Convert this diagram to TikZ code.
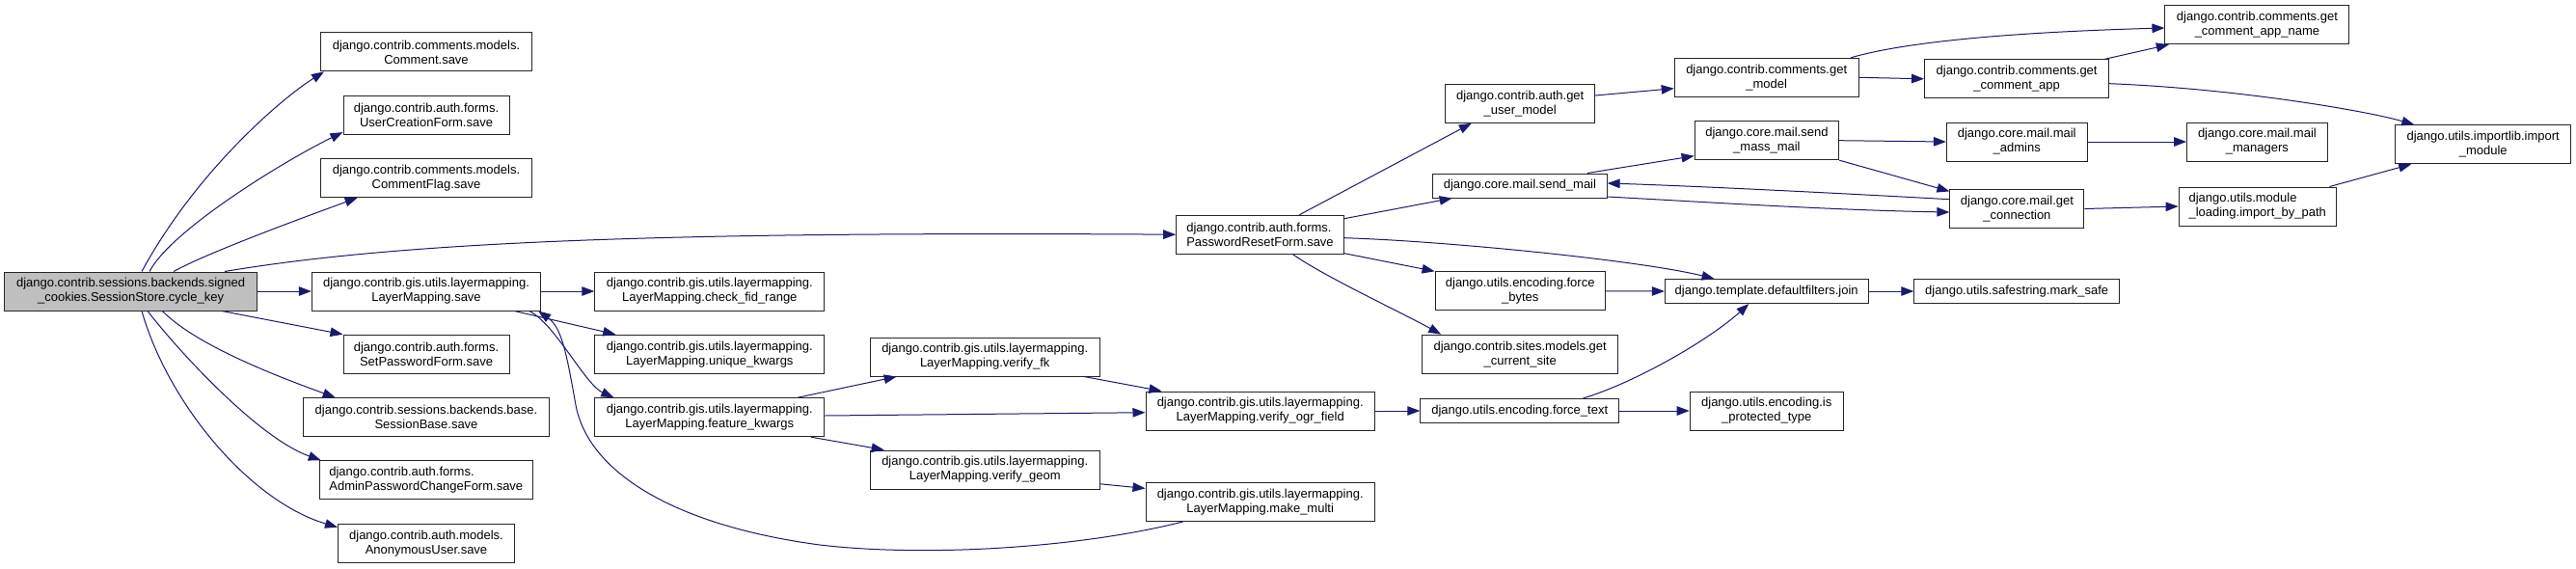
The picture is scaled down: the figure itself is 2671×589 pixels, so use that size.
\documentclass[tikz,border=0pt]{standalone}
\usepackage{fontspec}
\setmainfont{Liberation Sans}
\usetikzlibrary{arrows.meta}
\definecolor{edgeblue}{HTML}{191970}
\definecolor{rootgray}{HTML}{BFBFBF}
\begin{document}
\begin{tikzpicture}[x=1pt,y=-1pt,
  box/.style={draw=black!85, line width=1pt, fill=white, inner sep=0pt,
    font=\fontsize{13}{15}\selectfont, align=center, minimum height=40pt},
  sbox/.style={box, minimum height=25pt},
  lbox/.style={box, align=left},
  edge/.style={draw=edgeblue, line width=1pt, -{Triangle[length=13pt,width=9.5pt]}, fill=none}
]
\fill[white] (0,0) rectangle (2671,589);
\useasboundingbox (0,0) rectangle (2671,589);

% nodes
\node[box, fill=rootgray, minimum width=262pt] (root) at (135.6,302) {django.contrib.sessions.backends.signed\\\_cookies.SessionStore.cycle\_key};
\node[box, minimum width=219pt] (cmt) at (442,53.9) {django.contrib.comments.models.\\Comment.save};
\node[box, minimum width=172pt] (ucf) at (442,119.2) {django.contrib.auth.forms.\\UserCreationForm.save};
\node[box, minimum width=219pt] (cfl) at (442,184.5) {django.contrib.comments.models.\\CommentFlag.save};
\node[box, minimum width=237.3pt] (lms) at (442,302) {django.contrib.gis.utils.layermapping.\\LayerMapping.save};
\node[box, minimum width=172pt] (spf) at (442,367.2) {django.contrib.auth.forms.\\SetPasswordForm.save};
\node[box, minimum width=255pt] (sbs) at (442,432.7) {django.contrib.sessions.backends.base.\\SessionBase.save};
\node[lbox, minimum width=221pt] (apc) at (441.8,497.8) {django.contrib.auth.forms.\\AdminPasswordChangeForm.save};
\node[box, minimum width=183pt] (anon) at (442,563.2) {django.contrib.auth.models.\\AnonymousUser.save};

\node[box, minimum width=238pt] (cfr) at (735.8,302) {django.contrib.gis.utils.layermapping.\\LayerMapping.check\_fid\_range};
\node[box, minimum width=238pt] (ukw) at (735.8,367.2) {django.contrib.gis.utils.layermapping.\\LayerMapping.unique\_kwargs};
\node[box, minimum width=238pt] (fkw) at (735.8,432.7) {django.contrib.gis.utils.layermapping.\\LayerMapping.feature\_kwargs};

\node[box, minimum width=238pt] (vfk) at (1021.2,370) {django.contrib.gis.utils.layermapping.\\LayerMapping.verify\_fk};
\node[box, minimum width=238pt] (vgm) at (1021.2,487) {django.contrib.gis.utils.layermapping.\\LayerMapping.verify\_geom};

\node[lbox, minimum width=173.7pt] (prf) at (1306.5,243.2) {django.contrib.auth.forms.\\PasswordResetForm.save};
\node[box, minimum width=237.4pt] (vog) at (1306.7,426) {django.contrib.gis.utils.layermapping.\\LayerMapping.verify\_ogr\_field};
\node[box, minimum width=237.4pt] (mmu) at (1306.7,520.5) {django.contrib.gis.utils.layermapping.\\LayerMapping.make\_multi};

\node[box, minimum width=155pt] (gum) at (1576.2,107.3) {django.contrib.auth.get\\\_user\_model};
\node[sbox, minimum width=180.4pt] (sml) at (1575.9,192.5) {django.core.mail.send\_mail};
\node[box, minimum width=176.3pt] (fby) at (1576.2,301.8) {django.utils.encoding.force\\\_bytes};
\node[box, minimum width=203pt] (gcs) at (1576.2,367.2) {django.contrib.sites.models.get\\\_current\_site};
\node[sbox, minimum width=205.8pt] (ftx) at (1575.7,426) {django.utils.encoding.force\_text};

\node[box, minimum width=191pt] (gmd) at (1831.7,80.3) {django.contrib.comments.get\\\_model};
\node[box, minimum width=149.6pt] (smm) at (1831.9,145.7) {django.core.mail.send\\\_mass\_mail};
\node[sbox, minimum width=210.7pt] (jn) at (1831.7,302) {django.template.defaultfilters.join};
\node[box, minimum width=159pt] (ipt) at (1831.7,426) {django.utils.encoding.is\\\_protected\_type};

\node[box, minimum width=191.2pt] (gca) at (2091.1,81.8) {django.contrib.comments.get\\\_comment\_app};
\node[box, minimum width=145.7pt] (mad) at (2091.2,147) {django.core.mail.mail\\\_admins};
\node[box, minimum width=139pt] (gcn) at (2091.4,216.5) {django.core.mail.get\\\_connection};
\node[sbox, minimum width=212.8pt] (msf) at (2091.2,302) {django.utils.safestring.mark\_safe};

\node[box, minimum width=191pt] (gcan) at (2340.4,25.8) {django.contrib.comments.get\\\_comment\_app\_name};
\node[box, minimum width=145.7pt] (mmg) at (2340.4,147) {django.core.mail.mail\\\_managers};
\node[lbox, minimum width=163.2pt] (ibp) at (2340.7,214) {django.utils.module\\\_loading.import\_by\_path};

\node[box, minimum width=181.7pt] (imp) at (2574.7,149.8) {django.utils.importlib.import\\\_module};

% edges from root
\draw[edge] ([xshift=11.4pt]root.north) .. controls (205,175) and (295,100) .. ([xshift=4pt]cmt.south west);
\draw[edge] ([xshift=19.4pt]root.north) .. controls (178,238) and (296,166) .. ([yshift=2.6pt]ucf.south west);
\draw[edge] ([xshift=44.4pt]root.north) .. controls (215,262) and (316,225) .. ([xshift=38.7pt]cfl.south west);
\draw[edge] ([xshift=97.4pt]root.north) .. controls (420,250) and (700,240) .. (prf.west);
\draw[edge] (root.east) -- (lms.west);
\draw[edge] ([xshift=94.4pt]root.south) -- (spf.north west);
\draw[edge] ([xshift=32.8pt]root.south) .. controls (205,360) and (298,394) .. ([xshift=33.7pt]sbs.north west);
\draw[edge] ([xshift=17.4pt]root.south) .. controls (190,370) and (270,455) .. ([xshift=2pt]apc.north west);
\draw[edge] ([xshift=11.4pt]root.south) .. controls (175,420) and (260,520) .. ([yshift=-4pt]anon.north west);

% LayerMapping.save
\draw[edge] (lms.east) -- (cfr.west);
\draw[edge] ([xshift=91.4pt]lms.south) -- ([xshift=22pt]ukw.north west);
\draw[edge] ([xshift=106.7pt]lms.south) .. controls (575,335) and (607,399) .. ([xshift=20pt]fkw.north west);
\draw[edge] ([xshift=39pt]mmu.south west) .. controls (1120,568) and (960,578) .. (850,565)
   .. controls (700,545) and (610,490) .. (597,420)
   .. controls (588,370) and (583,340) .. ([xshift=-3pt]lms.south east);

% feature_kwargs
\draw[edge] ([xshift=211pt]fkw.north west) -- ([xshift=28pt]vfk.south west);
\draw[edge] ([yshift=1.7pt]fkw.east) -- ([yshift=-1.7pt]vog.west);
\draw[edge] ([xshift=224.7pt]fkw.south west) -- ([xshift=15pt]vgm.north west);
\draw[edge] ([xshift=222.3pt]vfk.south west) -- ([xshift=17pt]vog.north west);
\draw[edge] ([yshift=5.7pt]vgm.south east) -- ([yshift=-6.4pt]mmu.north west);
\draw[edge] (vog.east) -- (ftx.west);
\draw[edge] (ftx.east) -- (ipt.west);
\draw[edge] ([xshift=169.2pt]ftx.north west) .. controls (1700,395) and (1775,350) .. ([xshift=87.5pt]jn.south west);

% PasswordResetForm.save
\draw[edge] ([xshift=128.2pt]prf.north west) -- ([xshift=27.6pt]gum.south west);
\draw[edge] ([yshift=-4pt]prf.north east) -- ([xshift=20.5pt]sml.south west);
\draw[edge] ([yshift=-3.5pt]prf.east) .. controls (1500,250) and (1700,270) .. ([xshift=51.7pt]jn.north west);
\draw[edge] ([yshift=1pt]prf.south east) -- (fby.north west);
\draw[edge] ([xshift=121.4pt]prf.south west) .. controls (1370,285) and (1455,325) .. ([xshift=20pt]gcs.north west);

% comments
\draw[edge] ([yshift=8.3pt]gum.east) -- ([yshift=-11.4pt]gmd.west);
\draw[edge] (gmd.east) -- (gca.west);
\draw[edge] ([xshift=-8.5pt]gmd.north east) .. controls (1980,42) and (2100,33) .. ([yshift=-3.2pt]gcan.west);
\draw[edge] ([xshift=-4.8pt]gca.north east) -- ([xshift=4.4pt]gcan.south west);
\draw[edge] ([yshift=-4.9pt]gca.east) .. controls (2320,92) and (2454,115) .. ([xshift=20pt]imp.north west);

% mail
\draw[edge] (smm.east) -- (mad.west);
\draw[edge] (smm.south east) -- ([yshift=-2.4pt]gcn.north west);
\draw[edge] ([xshift=160.7pt]sml.north west) -- ([yshift=-16pt]smm.west);
\draw[edge] ([yshift=-11.5pt]sml.east) .. controls (1760,209) and (1900,218) .. ([yshift=-3.5pt]gcn.west);
\draw[edge] ([yshift=9.8pt]gcn.west) .. controls (1900,200) and (1760,193) .. ([yshift=2.5pt]sml.east);
\draw[edge] (mad.east) -- (mmg.west);
\draw[edge] (gcn.east) -- (ibp.west);
\draw[edge] ([xshift=-7.3pt]ibp.north east) -- ([xshift=16.8pt]imp.south west);

% encoding / join
\draw[edge] (fby.east) -- (jn.west);
\draw[edge] (jn.east) -- (msf.west);
\end{tikzpicture}
\end{document}
